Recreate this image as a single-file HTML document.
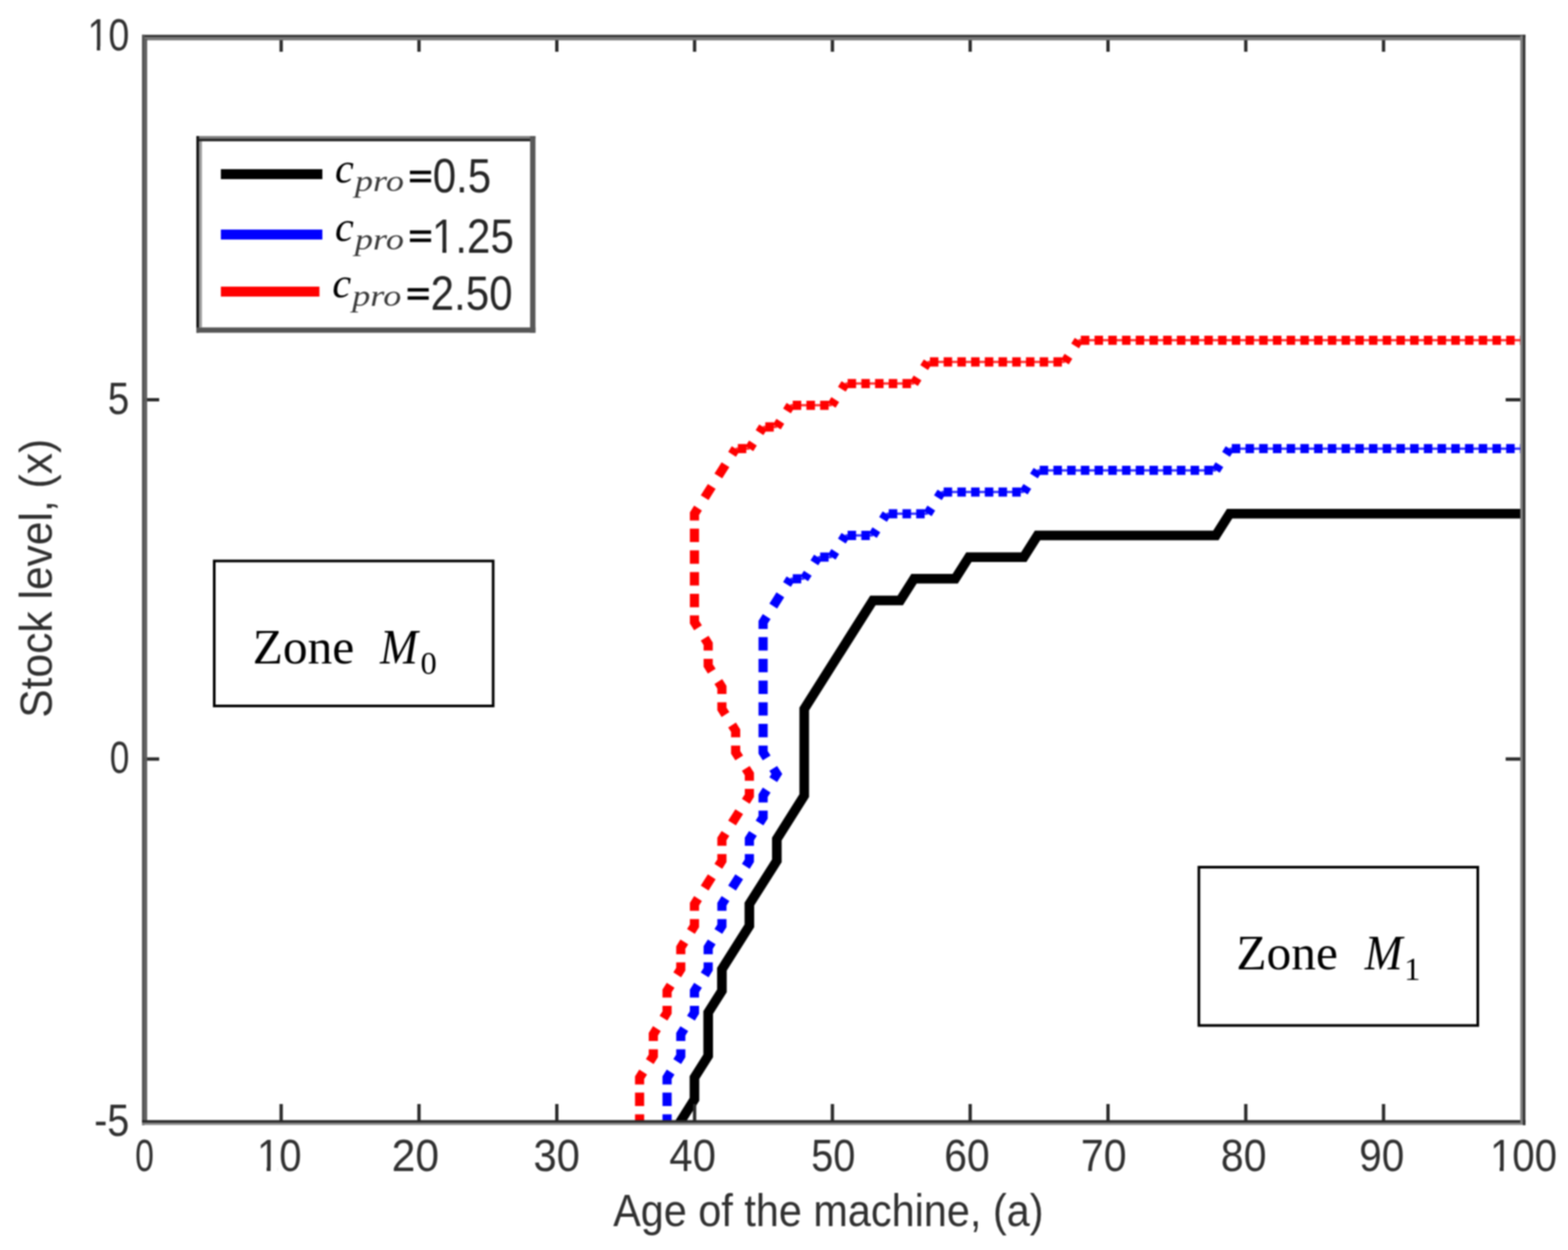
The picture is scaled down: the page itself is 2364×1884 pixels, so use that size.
<!DOCTYPE html>
<html><head><meta charset="utf-8"><title>Stock level vs age</title>
<style>
html,body{margin:0;padding:0;background:#fff;}
body{width:2364px;height:1884px;overflow:hidden;}
svg{display:block;filter:blur(0.9px);}
.sans{font-family:"Liberation Sans",Arial,sans-serif;}
.serif{font-family:"Liberation Serif","Times New Roman",serif;}
</style></head>
<body>
<svg width="2364" height="1884" viewBox="0 0 2364 1884">
<defs><clipPath id="ax"><rect x="218" y="57" width="2078" height="1635"/></clipPath></defs>
<rect width="2364" height="1884" fill="#fff"/>
<g clip-path="url(#ax)" fill="none">
<path d="M1018.1 1702.7 L1047 1656.9 L1047 1624.2 L1067.7 1591.5 L1067.7 1526.1 L1088.4 1493.5 L1088.4 1460.8 L1129.8 1395.4 L1129.8 1362.7 L1171.2 1297.3 L1171.2 1264.6 L1212.5 1199.2 L1212.5 1068.5 L1316 905 L1357.3 905 L1378 872.3 L1440.1 872.3 L1460.8 839.7 L1543.5 839.7 L1564.2 807 L1833.1 807 L1853.8 774.3 L2300.2 774.3" stroke="#000" stroke-width="14.5" stroke-linejoin="miter" stroke-miterlimit="3"/>
<path d="M1191.8 872.3L1212.5 872.3M1233.2 839.7L1253.9 839.7M1274.6 807L1295.3 807M1295.3 807L1316 807M1336.6 774.3L1357.3 774.3M1357.3 774.3L1378 774.3M1378 774.3L1398.7 774.3M1419.4 741.6L1440.1 741.6M1440.1 741.6L1460.8 741.6M1460.8 741.6L1481.4 741.6M1481.4 741.6L1502.1 741.6M1502.1 741.6L1522.8 741.6M1522.8 741.6L1543.5 741.6M1564.2 708.9L1584.9 708.9M1584.9 708.9L1605.5 708.9M1605.5 708.9L1626.2 708.9M1626.2 708.9L1646.9 708.9M1646.9 708.9L1667.6 708.9M1667.6 708.9L1688.3 708.9M1688.3 708.9L1709 708.9M1709 708.9L1729.7 708.9M1729.7 708.9L1750.3 708.9M1750.3 708.9L1771 708.9M1771 708.9L1791.7 708.9M1791.7 708.9L1812.4 708.9M1812.4 708.9L1833.1 708.9M1853.8 676.2L1874.5 676.2M1874.5 676.2L1895.1 676.2M1895.1 676.2L1915.8 676.2M1915.8 676.2L1936.5 676.2M1936.5 676.2L1957.2 676.2M1957.2 676.2L1977.9 676.2M1977.9 676.2L1998.6 676.2M1998.6 676.2L2019.2 676.2M2019.2 676.2L2039.9 676.2M2039.9 676.2L2060.6 676.2M2060.6 676.2L2081.3 676.2M2081.3 676.2L2102 676.2M2102 676.2L2122.7 676.2M2122.7 676.2L2143.4 676.2M2143.4 676.2L2164 676.2M2164 676.2L2184.7 676.2M2184.7 676.2L2205.4 676.2M2205.4 676.2L2226.1 676.2M2226.1 676.2L2246.8 676.2M2246.8 676.2L2267.5 676.2M2267.5 676.2L2288.2 676.2M2288.2 676.2L2308.8 676.2" stroke="#0000ff" stroke-width="3.5" opacity="0.8"/>
<path d="M1005.7 1722.3L1005.7 1712.2M1005.7 1699.7L1005.7 1689.6L1005.7 1679.5M1005.7 1667L1005.7 1656.9L1005.7 1646.8M1005.7 1634.4L1005.7 1624.2L1011.1 1615.7M1021 1600L1026.4 1591.5L1026.4 1581.4M1026.4 1569L1026.4 1558.8L1031.7 1550.3M1041.7 1534.6L1047 1526.1L1047 1516M1047 1503.6L1047 1493.5L1052.4 1485M1062.4 1469.3L1067.7 1460.8L1067.7 1450.6M1067.7 1438.2L1067.7 1428.1L1073.1 1419.6M1083 1403.9L1088.4 1395.4L1088.4 1385.3M1088.4 1372.8L1088.4 1362.7L1093.8 1354.2M1103.7 1338.5L1109.1 1330L1114.5 1321.5M1124.4 1305.8L1129.8 1297.3L1129.8 1287.2M1129.8 1274.8L1129.8 1264.6L1135.2 1256.1M1145.1 1240.4L1150.5 1231.9L1150.5 1221.8M1150.5 1209.4L1150.5 1199.2L1155.9 1190.8M1165.8 1175.1L1171.2 1166.6L1165.8 1158.1M1155.9 1142.4L1150.5 1133.9L1150.5 1123.7M1150.5 1111.3L1150.5 1101.2L1150.5 1091M1150.5 1078.6L1150.5 1068.5L1150.5 1058.4M1150.5 1045.9L1150.5 1035.8L1150.5 1025.7M1150.5 1013.2L1150.5 1003.1L1150.5 993M1150.5 980.6L1150.5 970.4L1150.5 960.3M1150.5 947.9L1150.5 937.7L1155.9 929.2M1165.8 913.5L1171.2 905L1176.5 896.5M1186.5 880.8L1191.8 872.3M1195.2 872.3L1208 872.3M1212.5 872.3L1217.9 863.9M1227.8 848.2L1233.2 839.7M1236.5 839.7L1249.3 839.7M1253.9 839.7L1259.3 831.2M1269.2 815.5L1274.6 807M1277.9 807L1290.7 807M1298.6 807L1311.4 807M1316 807L1321.3 798.5M1331.3 782.8L1336.6 774.3M1339.9 774.3L1352.8 774.3M1360.6 774.3L1373.5 774.3M1381.3 774.3L1394.1 774.3M1398.7 774.3L1404.1 765.8M1414 750.1L1419.4 741.6M1422.7 741.6L1435.5 741.6M1443.4 741.6L1456.2 741.6M1464.1 741.6L1476.9 741.6M1484.7 741.6L1497.6 741.6M1505.4 741.6L1518.3 741.6M1526.1 741.6L1538.9 741.6M1543.5 741.6L1548.9 733.1M1558.8 717.4L1564.2 708.9M1567.5 708.9L1580.3 708.9M1588.2 708.9L1601 708.9M1608.9 708.9L1621.7 708.9M1629.5 708.9L1642.4 708.9M1650.2 708.9L1663 708.9M1670.9 708.9L1683.7 708.9M1691.6 708.9L1704.4 708.9M1712.3 708.9L1725.1 708.9M1733 708.9L1745.8 708.9M1753.6 708.9L1766.5 708.9M1774.3 708.9L1787.2 708.9M1795 708.9L1807.8 708.9M1815.7 708.9L1828.5 708.9M1833.1 708.9L1838.5 700.4M1848.4 684.7L1853.8 676.2M1857.1 676.2L1869.9 676.2M1877.8 676.2L1890.6 676.2M1898.4 676.2L1911.3 676.2M1919.1 676.2L1932 676.2M1939.8 676.2L1952.6 676.2M1960.5 676.2L1973.3 676.2M1981.2 676.2L1994 676.2M2001.9 676.2L2014.7 676.2M2022.6 676.2L2035.4 676.2M2043.2 676.2L2056.1 676.2M2063.9 676.2L2076.7 676.2M2084.6 676.2L2097.4 676.2M2105.3 676.2L2118.1 676.2M2126 676.2L2138.8 676.2M2146.7 676.2L2159.5 676.2M2167.3 676.2L2180.2 676.2M2188 676.2L2200.9 676.2M2208.7 676.2L2221.5 676.2M2229.4 676.2L2242.2 676.2M2250.1 676.2L2262.9 676.2M2270.8 676.2L2283.6 676.2M2291.5 676.2L2304.3 676.2" stroke="#0000ff" stroke-width="13.8" stroke-linejoin="miter" stroke-miterlimit="4"/>
<path d="M1109.1 676.2L1129.8 676.2M1150.5 643.5L1171.2 643.5M1191.8 610.8L1212.5 610.8M1212.5 610.8L1233.2 610.8M1233.2 610.8L1253.9 610.8M1274.6 578.1L1295.3 578.1M1295.3 578.1L1316 578.1M1316 578.1L1336.6 578.1M1336.6 578.1L1357.3 578.1M1357.3 578.1L1378 578.1M1398.7 545.5L1419.4 545.5M1419.4 545.5L1440.1 545.5M1440.1 545.5L1460.8 545.5M1460.8 545.5L1481.4 545.5M1481.4 545.5L1502.1 545.5M1502.1 545.5L1522.8 545.5M1522.8 545.5L1543.5 545.5M1543.5 545.5L1564.2 545.5M1564.2 545.5L1584.9 545.5M1584.9 545.5L1605.5 545.5M1626.2 512.8L1646.9 512.8M1646.9 512.8L1667.6 512.8M1667.6 512.8L1688.3 512.8M1688.3 512.8L1709 512.8M1709 512.8L1729.7 512.8M1729.7 512.8L1750.3 512.8M1750.3 512.8L1771 512.8M1771 512.8L1791.7 512.8M1791.7 512.8L1812.4 512.8M1812.4 512.8L1833.1 512.8M1833.1 512.8L1853.8 512.8M1853.8 512.8L1874.5 512.8M1874.5 512.8L1895.1 512.8M1895.1 512.8L1915.8 512.8M1915.8 512.8L1936.5 512.8M1936.5 512.8L1957.2 512.8M1957.2 512.8L1977.9 512.8M1977.9 512.8L1998.6 512.8M1998.6 512.8L2019.2 512.8M2019.2 512.8L2039.9 512.8M2039.9 512.8L2060.6 512.8M2060.6 512.8L2081.3 512.8M2081.3 512.8L2102 512.8M2102 512.8L2122.7 512.8M2122.7 512.8L2143.4 512.8M2143.4 512.8L2164 512.8M2164 512.8L2184.7 512.8M2184.7 512.8L2205.4 512.8M2205.4 512.8L2226.1 512.8M2226.1 512.8L2246.8 512.8M2246.8 512.8L2267.5 512.8M2267.5 512.8L2288.2 512.8M2288.2 512.8L2308.8 512.8" stroke="#ff0000" stroke-width="3.5" opacity="0.8"/>
<path d="M964.3 1722.3L964.3 1712.2M964.3 1699.7L964.3 1689.6L964.3 1679.5M964.3 1667L964.3 1656.9L964.3 1646.8M964.3 1634.4L964.3 1624.2L969.7 1615.7M979.6 1600L985 1591.5L985 1581.4M985 1569L985 1558.8L990.4 1550.3M1000.3 1534.6L1005.7 1526.1L1005.7 1516M1005.7 1503.6L1005.7 1493.5L1011.1 1485M1021 1469.3L1026.4 1460.8L1026.4 1450.6M1026.4 1438.2L1026.4 1428.1L1031.7 1419.6M1041.7 1403.9L1047 1395.4L1047 1385.3M1047 1372.8L1047 1362.7L1052.4 1354.2M1062.4 1338.5L1067.7 1330L1073.1 1321.5M1083 1305.8L1088.4 1297.3L1088.4 1287.2M1088.4 1274.8L1088.4 1264.6L1093.8 1256.1M1103.7 1240.4L1109.1 1231.9L1114.5 1223.4M1124.4 1207.7L1129.8 1199.2L1129.8 1189.1M1129.8 1176.7L1129.8 1166.6L1124.4 1158.1M1114.5 1142.4L1109.1 1133.9L1109.1 1123.7M1109.1 1111.3L1109.1 1101.2L1103.7 1092.7M1093.8 1077L1088.4 1068.5L1088.4 1058.4M1088.4 1045.9L1088.4 1035.8L1083 1027.3M1073.1 1011.6L1067.7 1003.1L1067.7 993M1067.7 980.6L1067.7 970.4L1062.4 961.9M1052.4 946.2L1047 937.7L1047 927.6M1047 915.2L1047 905L1047 894.9M1047 882.5L1047 872.3L1047 862.2M1047 849.8L1047 839.7L1047 829.5M1047 817.1L1047 807L1047 796.8M1047 784.4L1047 774.3L1052.4 765.8M1062.4 750.1L1067.7 741.6L1073.1 733.1M1083 717.4L1088.4 708.9L1093.8 700.4M1103.7 684.7L1109.1 676.2M1112.4 676.2L1125.2 676.2M1129.8 676.2L1135.2 667.7M1145.1 652L1150.5 643.5M1153.8 643.5L1166.6 643.5M1171.2 643.5L1176.5 635M1186.5 619.3L1191.8 610.8M1195.2 610.8L1208 610.8M1215.8 610.8L1228.7 610.8M1236.5 610.8L1249.3 610.8M1253.9 610.8L1259.3 602.3M1269.2 586.6L1274.6 578.1M1277.9 578.1L1290.7 578.1M1298.6 578.1L1311.4 578.1M1319.3 578.1L1332.1 578.1M1339.9 578.1L1352.8 578.1M1360.6 578.1L1373.5 578.1M1378 578.1L1383.4 569.6M1393.3 553.9L1398.7 545.5M1402 545.5L1414.8 545.5M1422.7 545.5L1435.5 545.5M1443.4 545.5L1456.2 545.5M1464.1 545.5L1476.9 545.5M1484.7 545.5L1497.6 545.5M1505.4 545.5L1518.3 545.5M1526.1 545.5L1538.9 545.5M1546.8 545.5L1559.6 545.5M1567.5 545.5L1580.3 545.5M1588.2 545.5L1601 545.5M1605.5 545.5L1610.9 537M1620.9 521.3L1626.2 512.8M1629.5 512.8L1642.4 512.8M1650.2 512.8L1663 512.8M1670.9 512.8L1683.7 512.8M1691.6 512.8L1704.4 512.8M1712.3 512.8L1725.1 512.8M1733 512.8L1745.8 512.8M1753.6 512.8L1766.5 512.8M1774.3 512.8L1787.2 512.8M1795 512.8L1807.8 512.8M1815.7 512.8L1828.5 512.8M1836.4 512.8L1849.2 512.8M1857.1 512.8L1869.9 512.8M1877.8 512.8L1890.6 512.8M1898.4 512.8L1911.3 512.8M1919.1 512.8L1932 512.8M1939.8 512.8L1952.6 512.8M1960.5 512.8L1973.3 512.8M1981.2 512.8L1994 512.8M2001.9 512.8L2014.7 512.8M2022.6 512.8L2035.4 512.8M2043.2 512.8L2056.1 512.8M2063.9 512.8L2076.7 512.8M2084.6 512.8L2097.4 512.8M2105.3 512.8L2118.1 512.8M2126 512.8L2138.8 512.8M2146.7 512.8L2159.5 512.8M2167.3 512.8L2180.2 512.8M2188 512.8L2200.9 512.8M2208.7 512.8L2221.5 512.8M2229.4 512.8L2242.2 512.8M2250.1 512.8L2262.9 512.8M2270.8 512.8L2283.6 512.8M2291.5 512.8L2304.3 512.8" stroke="#ff0000" stroke-width="13.8" stroke-linejoin="miter" stroke-miterlimit="4"/>
</g>
<!-- ticks -->
<path d="M423.9 1690V1664M423.9 57V78M631.7 1690V1664M631.7 57V78M839.5 1690V1664M839.5 57V78M1047.2 1690V1664M1047.2 57V78M1255 1690V1664M1255 57V78M1462.7 1690V1664M1462.7 57V78M1670.5 1690V1664M1670.5 57V78M1878.2 1690V1664M1878.2 57V78M2085.9 1690V1664M2085.9 57V78M218 602.5H240M2296 602.5H2270M218 1144H240M2296 1144H2270" stroke="#2a2a2a" stroke-width="5" fill="none"/>
<!-- frame -->
<g fill="none">
<path d="M214 54.5H2300" stroke="#333" stroke-width="4.2"/>
<path d="M218 58.7H2296" stroke="#777" stroke-width="4.2"/>
<path d="M216 52.4V1696" stroke="#555" stroke-width="4"/>
<path d="M220 58V1692" stroke="#5f5f5f" stroke-width="3.8"/>
<path d="M214 1690.1H2300" stroke="#2a2a2a" stroke-width="3.8"/>
<path d="M214 1693.8H2300" stroke="#848484" stroke-width="3.6"/>
<path d="M2294 54V1692" stroke="#808080" stroke-width="4"/>
<path d="M2297.9 52.4V1696" stroke="#333" stroke-width="3.8"/>
</g>
<!-- tick labels -->
<g class="sans" font-size="68" fill="#303030">
<text x="218" y="1765" text-anchor="middle" textLength="28.3" lengthAdjust="spacingAndGlyphs">0</text>
<text x="421.1" y="1765" text-anchor="middle" textLength="67.3" lengthAdjust="spacingAndGlyphs">10</text>
<text x="626.2" y="1765" text-anchor="middle" textLength="71.4" lengthAdjust="spacingAndGlyphs">20</text>
<text x="839.2" y="1765" text-anchor="middle" textLength="70.1" lengthAdjust="spacingAndGlyphs">30</text>
<text x="1044.2" y="1765" text-anchor="middle" textLength="70.4" lengthAdjust="spacingAndGlyphs">40</text>
<text x="1256.3" y="1765" text-anchor="middle" textLength="66.7" lengthAdjust="spacingAndGlyphs">50</text>
<text x="1457.8" y="1765" text-anchor="middle" textLength="68.8" lengthAdjust="spacingAndGlyphs">60</text>
<text x="1663.9" y="1765" text-anchor="middle" textLength="69" lengthAdjust="spacingAndGlyphs">70</text>
<text x="1874.9" y="1765" text-anchor="middle" textLength="69" lengthAdjust="spacingAndGlyphs">80</text>
<text x="2083.2" y="1765" text-anchor="middle" textLength="67.8" lengthAdjust="spacingAndGlyphs">90</text>
<text x="2297" y="1765" text-anchor="middle" textLength="101.2" lengthAdjust="spacingAndGlyphs">100</text>
<text x="195" y="76" text-anchor="end" textLength="63" lengthAdjust="spacingAndGlyphs">10</text>
<text x="194.8" y="623.6" text-anchor="end" textLength="32.4" lengthAdjust="spacingAndGlyphs">5</text>
<text x="195" y="1165" text-anchor="end" textLength="29.5" lengthAdjust="spacingAndGlyphs">0</text>
<text x="195" y="1712" text-anchor="end" textLength="53" lengthAdjust="spacingAndGlyphs">-5</text>
<text x="924.4" y="1847.5" textLength="648.8" lengthAdjust="spacingAndGlyphs">Age of the machine, (a)</text>
<text transform="translate(77.6 1081.7) rotate(-90)" x="0" y="0" textLength="420.3" lengthAdjust="spacingAndGlyphs">Stock level, (x)</text>
</g>
<!-- hide the foot serif of Liberation Sans "1" to match the Helvetica-style 1 -->
<g fill="#fff">
<rect x="391" y="1758.7" width="11" height="7"/><rect x="408" y="1758.7" width="10.5" height="7"/>
<rect x="2250" y="1758.7" width="11" height="7"/><rect x="2267" y="1758.7" width="11" height="7"/>
<rect x="135" y="69.8" width="11" height="7"/><rect x="151" y="69.8" width="11" height="7"/>
</g>
<!-- legend -->
<rect x="296" y="205" width="511.3" height="296.4" fill="#fff"/>
<g fill="none">
<path d="M296 207H807.3" stroke="#808080" stroke-width="4"/>
<path d="M296 211H803" stroke="#2a2a2a" stroke-width="4"/>
<path d="M298 205V501.4" stroke="#151515" stroke-width="4"/>
<path d="M302.2 213V493.4" stroke="#9a9a9a" stroke-width="4.4"/>
<path d="M296 497.4H807.3" stroke="#555" stroke-width="8"/>
<path d="M803.25 205V501.4" stroke="#585858" stroke-width="8.1"/>
</g>
<path d="M333 262.5H486" stroke="#000" stroke-width="15"/>
<path d="M333 353.4H486" stroke="#0000ff" stroke-width="15"/>
<path d="M333 439.6H481.6" stroke="#ff0000" stroke-width="15"/>
<g fill="#000">
<text class="serif" font-style="italic" font-size="64" x="505" y="275">c</text>
<text class="serif" font-style="italic" font-size="46" x="535" y="288" textLength="74" lengthAdjust="spacingAndGlyphs" fill="#3a3a3a">pro</text>
<text class="sans" font-size="50" stroke="#000" stroke-width="1.6" x="616" y="281.7" textLength="36" lengthAdjust="spacingAndGlyphs">=</text><text class="sans" font-size="73" fill="#262626" x="652.4" y="290" textLength="88" lengthAdjust="spacingAndGlyphs">0.5</text>
<text class="serif" font-style="italic" font-size="64" x="505" y="362.8">c</text>
<text class="serif" font-style="italic" font-size="46" x="535" y="375.5" textLength="74" lengthAdjust="spacingAndGlyphs" fill="#3a3a3a">pro</text>
<text class="sans" font-size="50" stroke="#000" stroke-width="1.6" x="616" y="372.1" textLength="36" lengthAdjust="spacingAndGlyphs">=</text><text class="sans" font-size="73" fill="#262626" x="651.2" y="381.4" textLength="123.5" lengthAdjust="spacingAndGlyphs">1.25</text>
<text class="serif" font-style="italic" font-size="64" x="501" y="448">c</text>
<text class="serif" font-style="italic" font-size="46" x="531" y="461" textLength="74" lengthAdjust="spacingAndGlyphs" fill="#3a3a3a">pro</text>
<text class="sans" font-size="50" stroke="#000" stroke-width="1.6" x="612.5" y="458.6" textLength="36" lengthAdjust="spacingAndGlyphs">=</text><text class="sans" font-size="73" fill="#262626" x="649.3" y="467" textLength="123.5" lengthAdjust="spacingAndGlyphs">2.50</text>
</g>
<g fill="#fff"><rect x="655" y="374.5" width="12" height="7"/><rect x="673" y="374.5" width="11" height="7"/></g>
<!-- zone boxes -->
<rect x="323" y="845.5" width="420.5" height="218.5" fill="none" stroke="#000" stroke-width="4"/>
<rect x="1807.5" y="1307" width="420.5" height="238.6" fill="none" stroke="#000" stroke-width="4"/>
<g class="serif" fill="#000">
<text font-size="74.5" x="381" y="1000">Zone</text>
<text font-size="74.5" font-style="italic" x="573" y="1000" textLength="57" lengthAdjust="spacingAndGlyphs">M</text>
<text font-size="49" x="634" y="1016">0</text>
<text font-size="74.5" x="1864" y="1461.4">Zone</text>
<text font-size="74.5" font-style="italic" x="2057.5" y="1461.4" textLength="57" lengthAdjust="spacingAndGlyphs">M</text>
<text font-size="49" x="2117" y="1477.4">1</text>
</g>
</svg>
</body></html>
